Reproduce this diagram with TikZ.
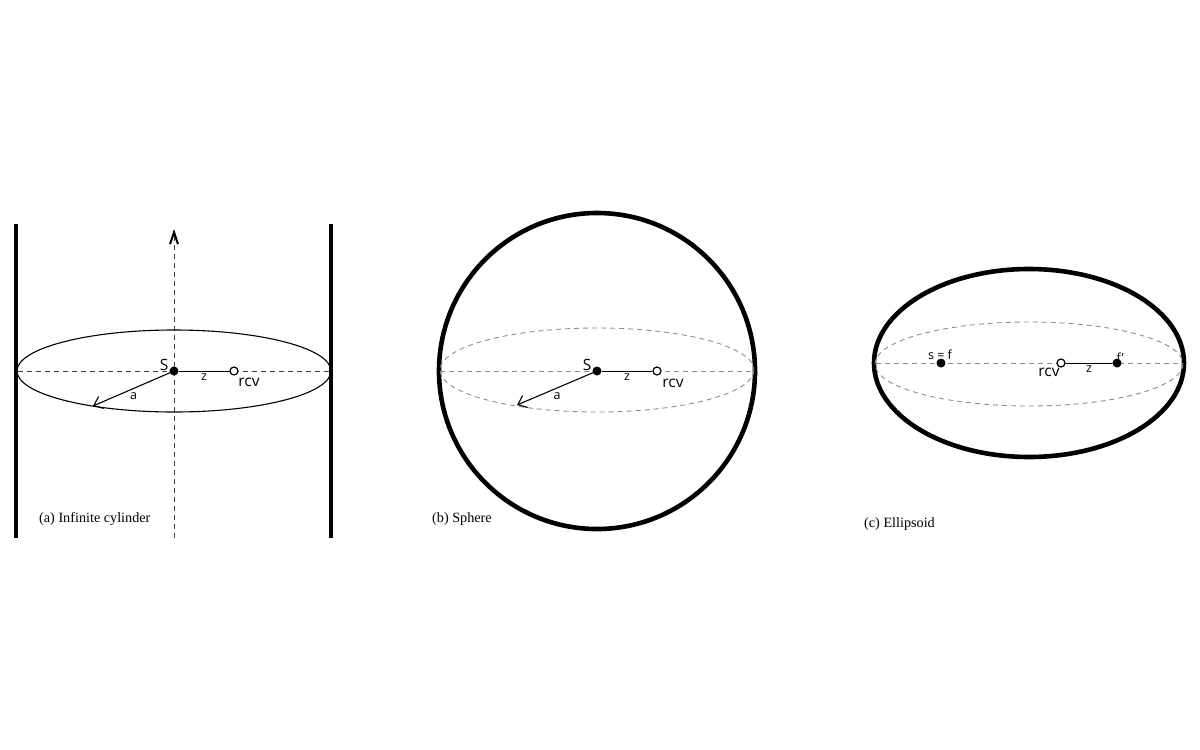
\documentclass[tikz,border=0pt]{standalone}
\usepackage{fontspec}
\setmainfont{Liberation Serif}
\newfontfamily\labfont{Open Sans}
\usetikzlibrary{positioning,arrows.meta}

\tikzset{
    wall/.style={line width=4.6pt},
    rim/.style={line width=1.1pt},
    guide/.style={dash pattern=on 5pt off 4pt, black!45, line width=0.9pt},
    axisline/.style={dash pattern=on 5pt off 4pt, black!75, line width=0.8pt},
    src/.style={circle, fill=black, inner sep=0pt, minimum size=9pt},
    rcv/.style={circle, draw=black, fill=white, line width=1.2pt, inner sep=0pt, minimum size=8pt},
    lbl/.style={font=\labfont\fontsize{15.5}{15.5}\selectfont, inner sep=1pt},
    small/.style={font=\labfont\fontsize{12.5}{12.5}\selectfont, inner sep=1pt},
    caption/.style={font=\fontsize{14.2}{16}\selectfont, anchor=west, inner sep=0pt},
    barb/.style={line width=1.1pt, -{Straight Barb[length=8pt,width=13pt]}}
}

\begin{document}
\begin{tikzpicture}[x=1pt,y=-1pt]
    \useasboundingbox (0,0) rectangle (1200,750);

    % (a) infinite cylinder
    \coordinate (awl1) at (16,224);
    \coordinate (awl2) at (16,538);
    \coordinate (awr1) at (331,224);
    \coordinate (awr2) at (331,538);
    \coordinate (atop) at (174,229);
    \coordinate (abot) at (174,538);
    \draw[wall] (awl1) -- (awl2);
    \draw[wall] (awr1) -- (awr2);
    \draw[axisline, -{Straight Barb[length=12pt,width=8pt,line width=2pt,black]}] (abot) -- (atop);
    \draw[rim] (174,371) ellipse [x radius=157, y radius=41];
    \draw[axisline] (18,371) -- (330,371);
    \node[src] (sa) at (174,371) {};
    \node[rcv] (ra) at (234,371) {};
    \coordinate (aa) at (93,406);
    \draw[line width=1pt] (sa) -- node[small, below=1.5pt] (za) {z} (ra);
    \draw[barb] (sa.center) -- node[small, below=3pt] (lb) {a} (aa);
    \node[lbl, above left=-4pt and 1pt of sa] (sal) {S};
    \node[lbl, below right=3pt and 0pt of ra] (ral) {rcv};
    \node[caption] (capa) at (39,519) {(a) Infinite cylinder};

    % (b) sphere
    \draw[wall] (597,371) circle [radius=158];
    \draw[guide] (597,370) ellipse [x radius=157, y radius=42];
    \draw[guide] (440,371) -- (755,371);
    \node[src] (sb) at (597,371) {};
    \node[rcv] (rb) at (657,371) {};
    \coordinate (ab) at (517,405);
    \draw[line width=1pt] (sb) -- node[small, below=1.5pt] (zb) {z} (rb);
    \draw[barb] (sb.center) -- node[small, below=3pt] (lbb) {a} (ab);
    \node[lbl, above left=-4pt and 1pt of sb] (sbl) {S};
    \node[lbl, below right=4pt and 1pt of rb] (rbl) {rcv};
    \node[caption] (capb) at (432,519) {(b) Sphere};

    % (c) ellipsoid
    \draw[wall] (1029,363) ellipse [x radius=155, y radius=94];
    \draw[guide] (1029,364) ellipse [x radius=154, y radius=42];
    \draw[guide] (876,363) -- (1182,363);
    \node[src] (sfc) at (941,363) {};
    \node[src] (fpc) at (1117,363) {};
    \node[rcv] (rc) at (1061,363) {};
    \draw[line width=1pt] (rc) -- node[small, below=1.5pt] (zc) {z} (fpc);
    \node[small, above=-3pt of sfc, xshift=-1pt] (sfl) {s = f};
    \node[small, above right=-4pt and -5pt of fpc] (fpl) {f’};
    \node[lbl, below left=1pt and -3pt of rc] (rcl) {rcv};
    \node[caption] (capc) at (864,524) {(c) Ellipsoid};
\end{tikzpicture}
\end{document}
